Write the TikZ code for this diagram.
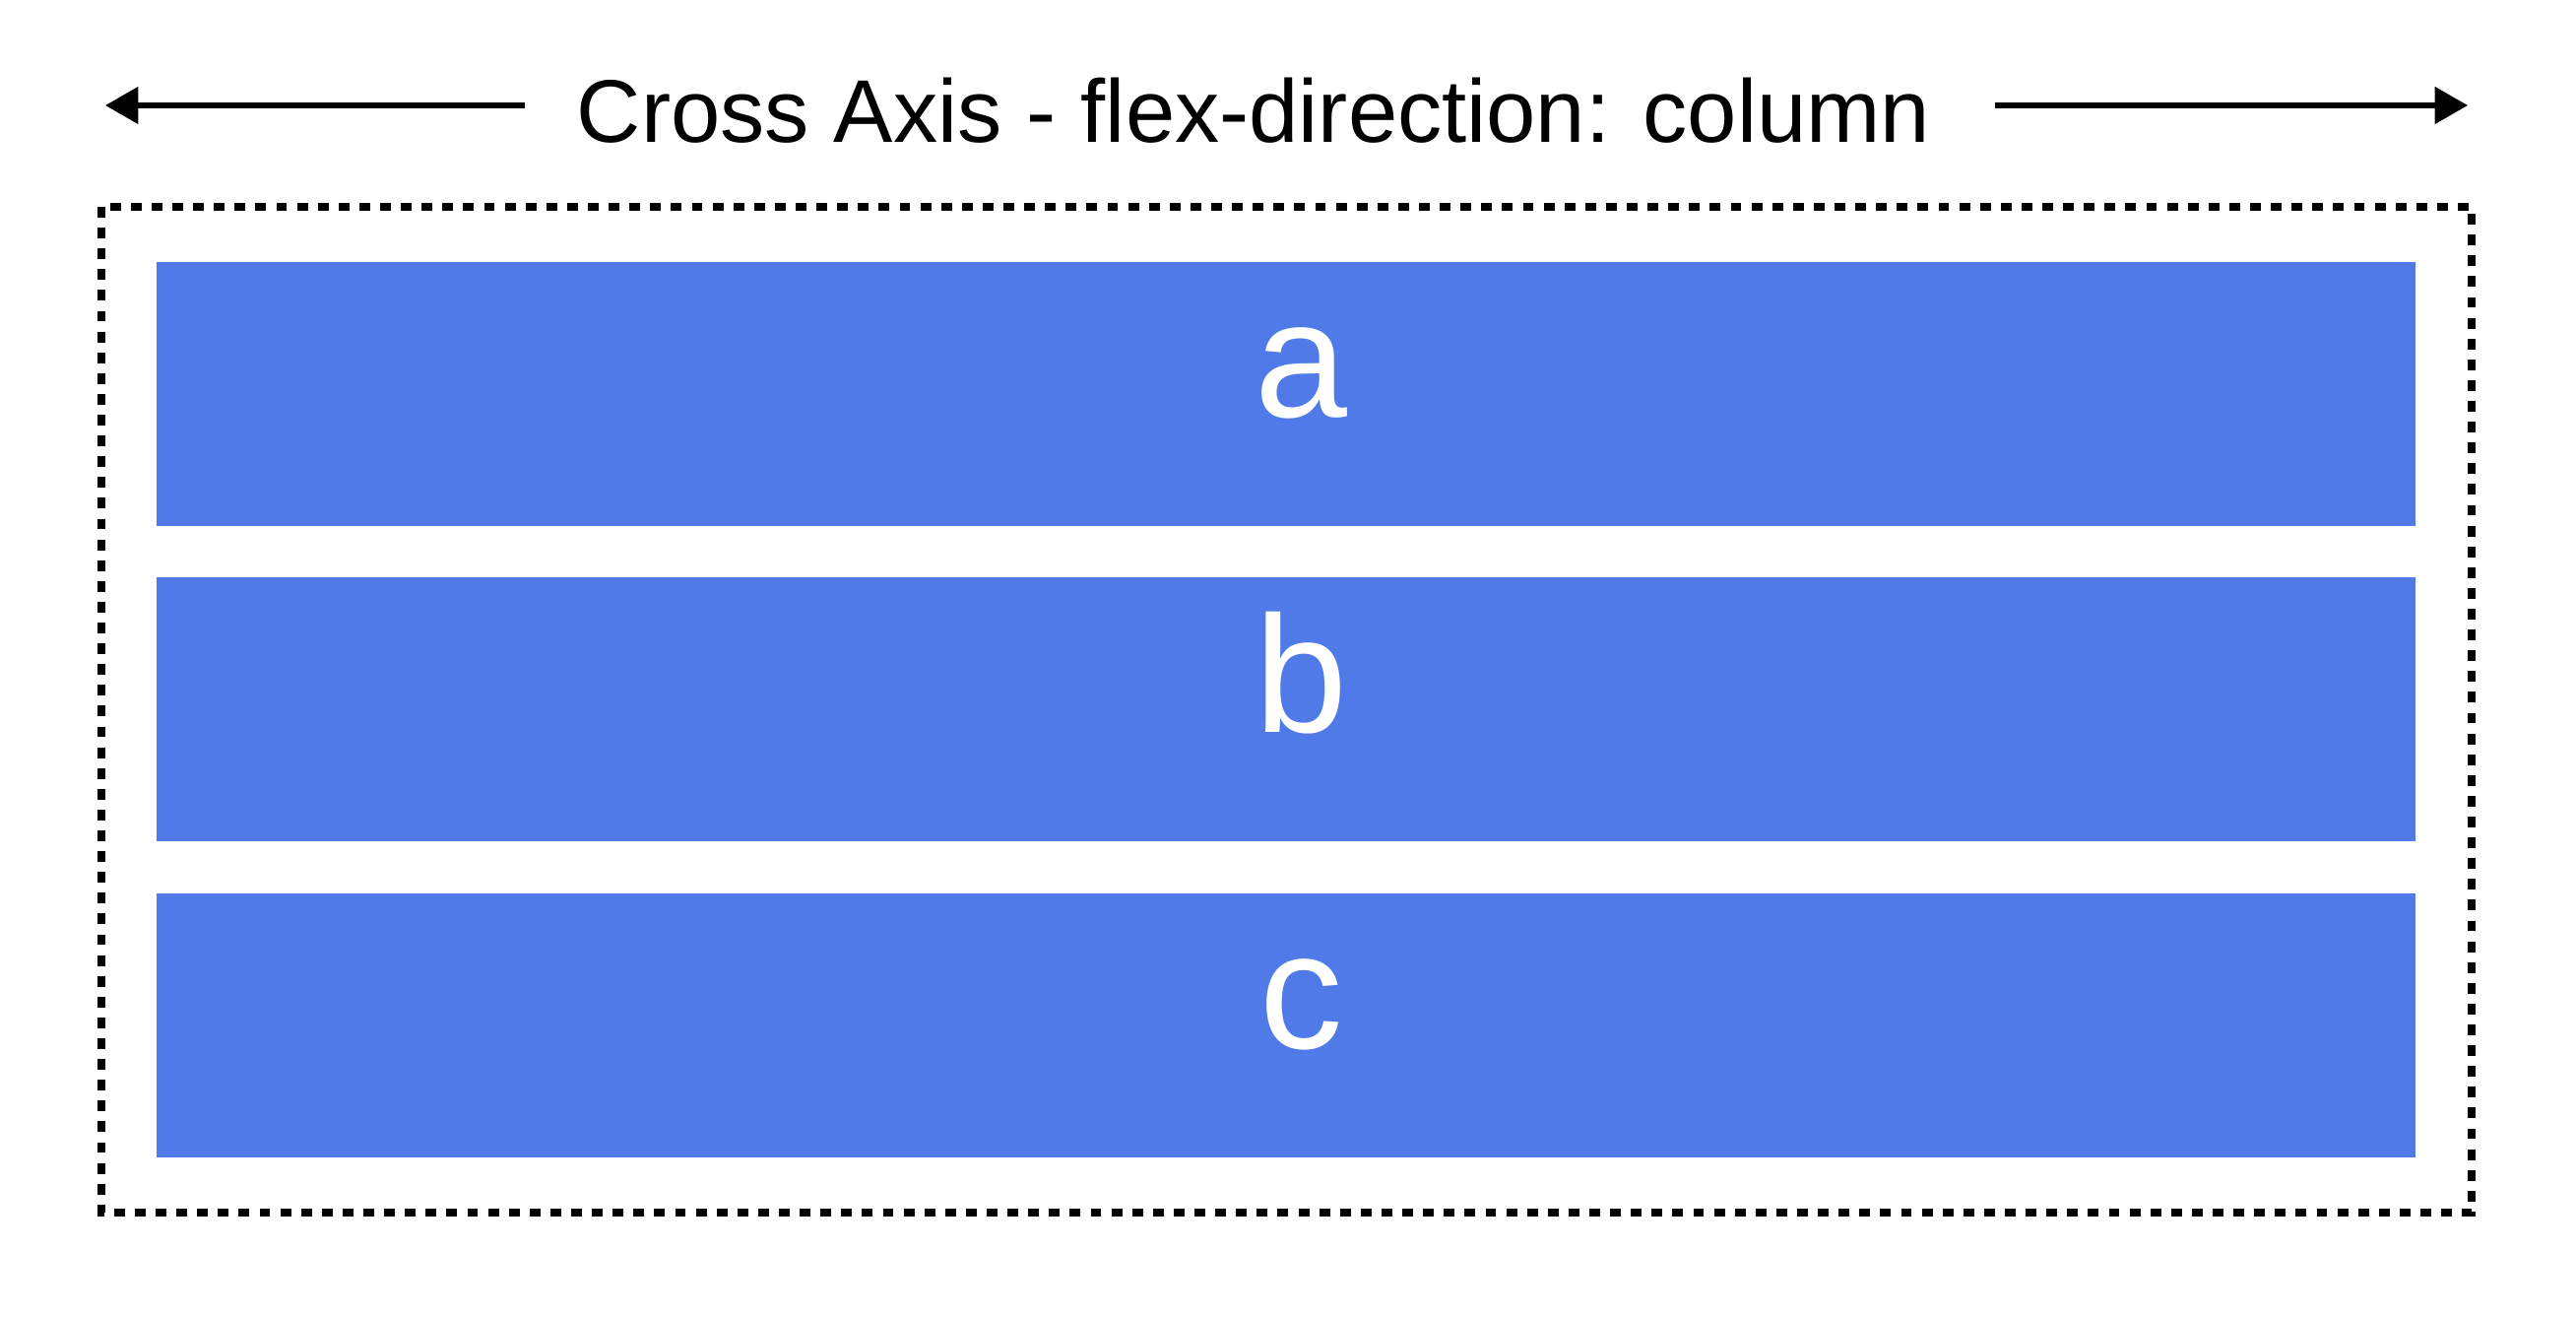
\documentclass[tikz,border=0pt]{standalone}
\usepackage{fontspec}
\setmainfont{Liberation Sans}
\usetikzlibrary{arrows.meta}
\definecolor{itemblue}{RGB}{79,122,232}
\begin{document}
\begin{tikzpicture}[x=0.01cm,y=-0.01cm,
  itembox/.style={fill=itemblue, draw=none, minimum width=22.93cm, minimum height=2.67cm,
    inner sep=0pt, text=white, font=\fontsize{48}{56}\selectfont, text height=34pt, text depth=20.4pt},
  container/.style={draw=black, line width=2.1pt, dash pattern=on 3.1pt off 2.9pt},
  axisarrow/.style={draw=black, line width=1.45pt, -{Triangle[length=9.5pt,width=10.5pt]}},
  titletext/.style={font=\fontsize{25.7}{31}\selectfont, inner sep=0pt, anchor=base}]
\useasboundingbox (0,0) rectangle (2616,1336);
\fill[white] (0,0) rectangle (2616,1336);
% container
\coordinate (c1) at (103,210);
\coordinate (c2) at (2510,1231);
\draw[container] (c1) rectangle (c2);
% items
\node[itembox] (a) at (1306,400) {\hspace*{9pt}a};
\node[itembox] (b) at (1306,720) {\hspace*{9pt}b};
\node[itembox] (c) at (1306,1041) {\hspace*{9pt}c};
% title and arrows
\node[titletext] (title) at (1273,144) {Cross Axis - flex-direction: column};
\coordinate (ls) at (533,107);
\coordinate (le) at (107,107);
\coordinate (rs) at (2026,107);
\coordinate (re) at (2506,107);
\draw[axisarrow] (ls) -- (le);
\draw[axisarrow] (rs) -- (re);
\end{tikzpicture}
\end{document}
